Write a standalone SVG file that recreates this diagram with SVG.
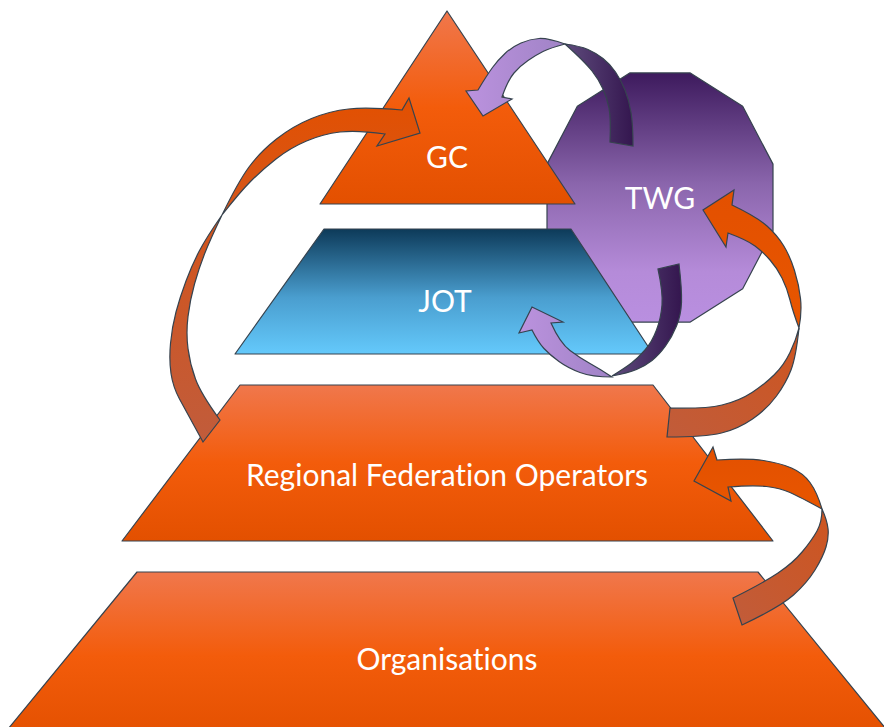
<svg xmlns="http://www.w3.org/2000/svg" width="884" height="727" viewBox="0 0 884 727">
<defs>
<style>
.sh{stroke:#36434f;stroke-width:1.2;stroke-linejoin:round}
.ar{stroke:#36434f;stroke-width:1.2;stroke-linejoin:miter}
.lb{fill:#ffffff;font-family:Lato,"Open Sans","Liberation Sans",sans-serif;font-size:30px;text-anchor:middle;font-variant-ligatures:none}
</style>
<linearGradient id="gOr" x1="0" y1="0" x2="0" y2="1">
<stop offset="0" stop-color="#f0774c"/>
<stop offset="0.5" stop-color="#f35c0b"/>
<stop offset="1" stop-color="#e35000"/>
</linearGradient>
<linearGradient id="gJot" x1="0" y1="0" x2="0" y2="1">
<stop offset="0" stop-color="#0d3a59"/>
<stop offset="0.55" stop-color="#4a9ecf"/>
<stop offset="1" stop-color="#64c9fb"/>
</linearGradient>
<linearGradient id="gTwg" x1="0" y1="0" x2="0" y2="1">
<stop offset="0" stop-color="#3d1a5d"/>
<stop offset="0.45" stop-color="#8b66ad"/>
<stop offset="0.8" stop-color="#b58bd9"/>
<stop offset="1" stop-color="#b98fe0"/>
</linearGradient>
<linearGradient id="gPd" x1="0" y1="0" x2="1" y2="0">
<stop offset="0" stop-color="#5e4b7c"/>
<stop offset="1" stop-color="#34164f"/>
</linearGradient>
<linearGradient id="gPl" x1="0" y1="0" x2="1" y2="0">
<stop offset="0" stop-color="#bb92de"/>
<stop offset="1" stop-color="#a083c6"/>
</linearGradient>
<linearGradient id="gOf" x1="0" y1="0" x2="0" y2="1">
<stop offset="0" stop-color="#e35000"/>
<stop offset="1" stop-color="#e85600"/>
</linearGradient>
<linearGradient id="gA1u" x1="0" y1="0" x2="0" y2="1">
<stop offset="0" stop-color="#e35000"/>
<stop offset="1" stop-color="#d3561c"/>
</linearGradient>
<linearGradient id="gBr" x1="0" y1="0" x2="0" y2="1">
<stop offset="0" stop-color="#d2541c"/>
<stop offset="1" stop-color="#c15c3b"/>
</linearGradient>
<linearGradient id="gBr2" x1="1" y1="0" x2="0" y2="1">
<stop offset="0" stop-color="#cd5520"/>
<stop offset="1" stop-color="#c15c3a"/>
</linearGradient>
</defs>

<g id="twg">
<polygon class="sh" fill="url(#gTwg)" points="629.7,72.9 690.3,72.9 742.7,106.3 773,164.1 773,230.9 742.7,288.7 690.3,322.1 629.7,322.1 577.3,288.7 547,230.9 547,164.1 577.3,106.3"/>
<text class="lb" x="660" y="209">TWG</text>
</g>

<g id="gc">
<polygon class="sh" fill="url(#gOr)" points="447,11 575,204 320,204"/>
<text class="lb" x="447" y="168">GC</text>
</g>

<g id="jot">
<polygon class="sh" fill="url(#gJot)" points="324,229 571,229 653,354 235,354"/>
<text class="lb" x="445" y="312">JOT</text>
</g>

<g id="rfo">
<polygon class="sh" fill="url(#gOr)" points="240,385 653,385 773,541 122,541"/>
<text class="lb" x="447" y="486">Regional Federation Operators</text>
</g>

<g id="org">
<polygon class="sh" fill="url(#gOr)" points="137,572 758,572 895,740 -1,740"/>
<text class="lb" x="447" y="670">Organisations</text>
</g>

<g id="connectors">
<path class="ar" fill="url(#gBr)" d="M203,442 Q186,411 179.5,399 Q173,387 171,373.5 Q169,360 170.5,343.5 Q172,327 176,312 Q180,297 186,281 Q192,265 199,251.5 Q206,238 222,215 Q210,240 204.5,254 Q199,268 194.5,284 Q190,300 188,316.5 Q186,333 188,348.5 Q190,364 195.5,379 Q201,394 220,420 Z"/>
<path class="ar" fill="url(#gA1u)" d="M222,215 Q240,192 251,181 Q262,170 276,159 Q290,148 306.5,141 Q323,134 340,132 Q357,130 385,134 L377,146 L420,133 L409,98 L402,110 Q367,107 348.5,109 Q330,111 311.5,118.5 Q293,126 276.5,139 Q260,152 249,167 Q238,182 222,215 Z"/>
<path class="ar" fill="url(#gPd)" d="M610,142 Q611,118 609,108 Q607,98 603,89 Q599,80 592,71 Q585,62 565,44 Q580,46 588,49.5 Q596,53 603,58.5 Q610,64 615.5,72 Q621,80 625,90 Q629,100 631,112.5 Q633,125 633,146 Z"/>
<path class="ar" fill="url(#gPl)" d="M565,44 Q548,38 539,38.5 Q530,39 521,43 Q512,47 505,53.5 Q498,60 492.5,67.5 Q487,75 478,90 L466,91 L483,116 L512,99 L502,97 Q508,80 514,73 Q520,66 528,60.5 Q536,55 543,51.5 Q550,48 565,44 Z"/>
<path class="ar" fill="url(#gPd)" d="M679,264 Q682,290 681.5,302.5 Q681,315 676.5,326 Q672,337 665.5,346 Q659,355 652,360.5 Q645,366 636.5,369.5 Q628,373 612,376 Q625,368 631.5,363 Q638,358 645,350 Q652,342 656.5,330 Q661,318 662,305 Q663,292 658,269 Z"/>
<path class="ar" fill="url(#gPl)" d="M612,377 Q592,377 580,372.5 Q568,368 559,361.5 Q550,355 544,348.5 Q538,342 532,330 L519,333 L532,307 L563,322 L551,323 Q560,343 570,350.5 Q580,358 590,363.5 Q600,369 612,377 Z"/>
<path class="ar" fill="url(#gBr2)" d="M667,437 Q705,437 721.5,433 Q738,429 752.5,419 Q767,409 776.5,396 Q786,383 791,370 Q796,357 799,328 Q796,340 790,352.5 Q784,365 774.5,374.5 Q765,384 752,392.5 Q739,401 722,405 Q705,409 670,408 Z"/>
<path class="ar" fill="url(#gOf)" d="M799,328 Q802,312 800.5,298.5 Q799,285 794.5,270.5 Q790,256 783.5,245.5 Q777,235 767,226 Q757,217 732,205 L734,190 L703,210 L726,247 L728,233 Q747,240 755,246 Q763,252 770,260 Q777,268 782,278 Q787,288 790,300 Q793,312 799,328 Z"/>
<path class="ar" fill="url(#gBr2)" d="M742,625 Q780,607 793.5,595 Q807,583 815,570 Q823,557 826,547 Q829,537 828,528.5 Q827,520 822,509 Q822,522 817,531 Q812,540 802.5,551.5 Q793,563 778,573 Q763,583 733,598 Z"/>
<path class="ar" fill="url(#gOf)" d="M822,509 Q817,492 810,482.5 Q803,473 791.5,468 Q780,463 763.5,460.5 Q747,458 717,460 L713,447 L694,481 L731,501 L728,487 Q753,485 766.5,486.5 Q780,488 790,492.5 Q800,497 822,509 Z"/>
</g>
</svg>
